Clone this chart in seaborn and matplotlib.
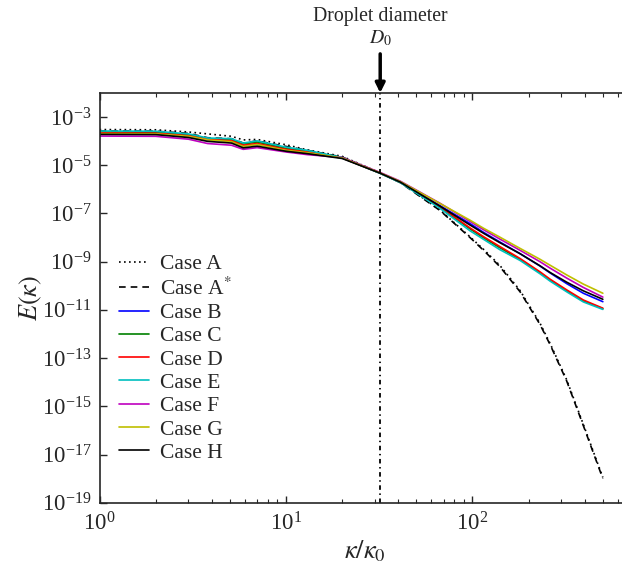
import numpy as np
import pandas as pd
import matplotlib
matplotlib.use("Agg")
import matplotlib.pyplot as plt
import seaborn as sns

k = [1, 2, 3, 3.8, 5.1, 5.9, 7, 10, 13, 20, 32, 41,
     67, 97, 115, 140, 180, 230, 261, 320, 393, 500]

# log10 E(kappa) for each case
logE_a = [-3.52, -3.53, -3.62, -3.70, -3.80, -3.95, -3.93, -4.15, -4.36, -4.63, -5.32, -5.70,
          -6.86, -7.97, -8.50, -9.15, -10.20, -11.55, -12.40, -13.90, -15.75, -17.95]
logE_astar = [-3.58, -3.59, -3.68, -3.86, -3.90, -4.08, -3.99, -4.22, -4.38, -4.66, -5.32, -5.72,
              -6.88, -8.00, -8.54, -9.20, -10.25, -11.60, -12.45, -13.95, -15.80, -18.00]
logE_b = [-3.68, -3.69, -3.79, -3.94, -4.00, -4.20, -4.12, -4.36, -4.47, -4.70, -5.33, -5.70,
          -6.68, -7.42, -7.79, -8.18, -8.67, -9.18, -9.47, -9.91, -10.31, -10.66]
logE_c = [-3.62, -3.63, -3.74, -3.90, -3.94, -4.12, -4.04, -4.30, -4.42, -4.69, -5.33, -5.71,
          -6.75, -7.64, -8.02, -8.42, -8.91, -9.46, -9.77, -10.21, -10.63, -10.95]
logE_d = [-3.66, -3.67, -3.77, -3.92, -3.98, -4.17, -4.10, -4.34, -4.45, -4.69, -5.33, -5.71,
          -6.72, -7.60, -7.97, -8.37, -8.87, -9.42, -9.73, -10.17, -10.59, -10.93]
logE_e = [-3.58, -3.59, -3.70, -3.87, -3.90, -4.08, -3.99, -4.25, -4.38, -4.68, -5.34, -5.72,
          -6.79, -7.72, -8.08, -8.50, -8.95, -9.50, -9.81, -10.25, -10.67, -10.98]
logE_f = [-3.79, -3.80, -3.92, -4.10, -4.17, -4.34, -4.27, -4.45, -4.56, -4.68, -5.30, -5.66,
          -6.58, -7.33, -7.68, -8.06, -8.53, -9.00, -9.27, -9.68, -10.07, -10.47]
logE_g = [-3.69, -3.70, -3.80, -3.95, -4.02, -4.22, -4.14, -4.38, -4.48, -4.70, -5.32, -5.68,
          -6.59, -7.28, -7.62, -7.98, -8.45, -8.90, -9.15, -9.55, -9.93, -10.31]
logE_h = [-3.72, -3.73, -3.85, -4.01, -4.08, -4.28, -4.21, -4.42, -4.52, -4.72, -5.33, -5.70,
          -6.70, -7.48, -7.83, -8.21, -8.67, -9.17, -9.45, -9.85, -10.21, -10.56]

cases = ["Case A", "Case A$^{*}$", "Case B", "Case C", "Case D",
         "Case E", "Case F", "Case G", "Case H"]
colors = ["k", "k", "b", (0, 0.5, 0), "r", (0, 0.75, 0.75),
          (0.75, 0, 0.75), (0.75, 0.75, 0), "k"]
d0 = 32  # droplet diameter wavenumber

all_logE = [logE_a, logE_astar, logE_b, logE_c, logE_d, logE_e, logE_f, logE_g, logE_h]
df = pd.concat([pd.DataFrame({"k": k, "E": 10.0 ** np.array(v), "case": c})
                for c, v in zip(cases, all_logE)], ignore_index=True)

sns.set_style("ticks")
plt.rcParams["font.family"] = ["Liberation Serif", "DejaVu Serif"]
plt.rcParams["mathtext.fontset"] = "stix"
plt.rcParams["font.size"] = 15

fig = plt.figure(figsize=(6.22, 5.70), dpi=100)
ax = fig.add_axes([0.160, 0.118, 0.853, 0.719])

dashes = {c: "" for c in cases}
dashes["Case A"] = (1, 2)
dashes["Case A$^{*}$"] = (4, 3)
sns.lineplot(data=df, x="k", y="E", hue="case", style="case",
             palette=dict(zip(cases, colors)), dashes=dashes,
             hue_order=cases, style_order=cases,
             estimator=None, linewidth=1.2, ax=ax)

ax.axvline(d0, color="k", ls=(0, (2.5, 2, 0.8, 2)), lw=1.3)

ax.set_xscale("log")
ax.set_yscale("log")
ax.set_xlim(1, 700)
ax.set_ylim(1e-19, 1e-2)
ax.set_yticks([10.0 ** p for p in range(-19, -2, 2)])
ax.yaxis.set_minor_locator(matplotlib.ticker.NullLocator())
ax.tick_params(which="both", direction="in", top=True, right=True, labelsize=16.5)
ax.tick_params(axis="x", which="major", pad=7)
ax.tick_params(axis="y", which="major", pad=6)
ax.tick_params(which="major", length=5, width=1)
ax.tick_params(which="minor", length=3, width=0.8)
for s in ax.spines.values():
    s.set_linewidth(1.2)

ax.set_xlabel(r"$\kappa/\kappa_0$", fontsize=19, labelpad=2)
ax.set_ylabel(r"$E(\kappa)$", fontsize=19, labelpad=-2)

ax.annotate("Droplet diameter\n$D_0$", xy=(d0, 1.0),
            xycoords=("data", "axes fraction"),
            xytext=(d0, 1.11), textcoords=("data", "axes fraction"),
            ha="center", va="bottom", fontsize=14.2, linespacing=1.15,
            arrowprops=dict(arrowstyle="-|>", color="k", lw=2.5,
                            mutation_scale=14, shrinkA=2, shrinkB=0))

handles, labels = ax.get_legend_handles_labels()
ax.legend(handles, labels, loc="lower left", frameon=False, fontsize=15.5,
          handlelength=1.4, handletextpad=0.5, labelspacing=0.15,
          bbox_to_anchor=(0.0, 0.05))

fig.savefig("out.png", dpi=100)
